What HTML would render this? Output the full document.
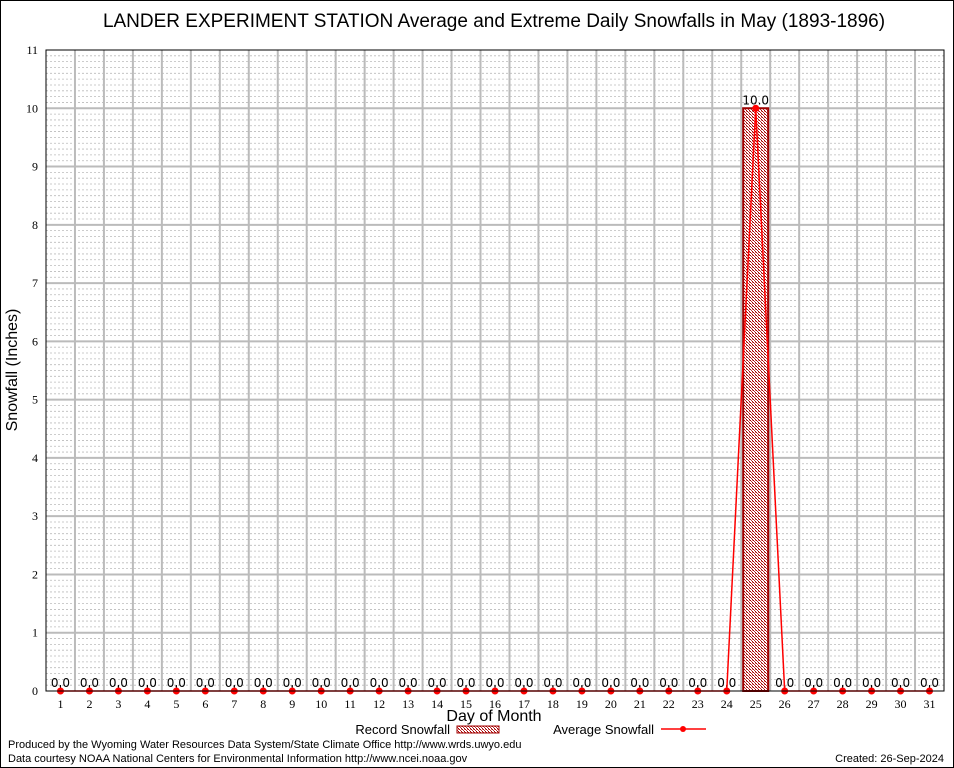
<!DOCTYPE html>
<html><head><meta charset="utf-8"><style>
body{margin:0;background:#fff}
svg{display:block;font-family:"Liberation Sans",sans-serif}
</style></head><body>
<svg id="chart" width="954" height="768" viewBox="0 0 954 768" xmlns="http://www.w3.org/2000/svg">
<defs>
<pattern id="hatch" width="3" height="3" patternUnits="userSpaceOnUse">
<rect width="3" height="3" fill="#fff"/><rect width="1" height="1" fill="#a00000"/><rect x="1" y="1" width="1" height="1" fill="#c03030"/><rect x="2" y="2" width="1" height="1" fill="#a00000"/><rect x="2" y="0" width="1" height="1" fill="#e08080"/>
</pattern>
</defs>
<rect x="0.5" y="0.5" width="953" height="767" fill="#fff" stroke="#000"/>
<text x="494" y="27" font-size="19" text-anchor="middle">LANDER EXPERIMENT STATION Average and Extreme Daily Snowfalls in May (1893-1896)</text>
<g id="grid"></g>
<g id="marks"></g>
<rect x="46" y="50" width="898" height="641" fill="none" stroke="#000"/>
<text transform="translate(17,370) rotate(-90)" font-size="16" text-anchor="middle">Snowfall (Inches)</text>
<text x="494" y="721" font-size="16" text-anchor="middle">Day of Month</text>
<g>
<text x="450" y="734" font-size="13" text-anchor="end">Record Snowfall</text>
<rect x="457" y="726" width="42" height="7" fill="url(#hatch)" stroke="#a00000"/>
</g>
<g>
<text x="654" y="734" font-size="13" text-anchor="end">Average Snowfall</text>
<line x1="661" y1="729" x2="706" y2="729" stroke="#f00" stroke-width="1.5"/>
<circle cx="683" cy="729" r="3" fill="#f00"/>
</g>
<text x="8" y="748" font-size="11">Produced by the Wyoming Water Resources Data System/State Climate Office http://www.wrds.uwyo.edu</text>
<text x="8" y="762" font-size="11">Data courtesy NOAA National Centers for Environmental Information http://www.ncei.noaa.gov</text>
<text x="944" y="762" font-size="11" text-anchor="end">Created:  26-Sep-2024</text>
</svg>
<script>
const days=[1,2,3,4,5,6,7,8,9,10,11,12,13,14,15,16,17,18,19,20,21,22,23,24,25,26,27,28,29,30,31];
const recordValues=[0,0,0,0,0,0,0,0,0,0,0,0,0,0,0,0,0,0,0,0,0,0,0,0,10,0,0,0,0,0,0];
const averageValues=[0,0,0,0,0,0,0,0,0,0,0,0,0,0,0,0,0,0,0,0,0,0,0,0,10,0,0,0,0,0,0];
const yTicks=[0,1,2,3,4,5,6,7,8,9,10,11];
const NS="http://www.w3.org/2000/svg";
const L=46,R=944,T=50,B=691,YMAX=11;
const xs=d=>L+(d-0.5)*(R-L)/31;
const ys=v=>B-v*(B-T)/YMAX;
function mk(tag,attrs,parent,txt){const e=document.createElementNS(NS,tag);for(const k in attrs)e.setAttribute(k,attrs[k]);if(txt!=null)e.textContent=txt;parent.appendChild(e);return e;}
const grid=document.getElementById('grid'),marks=document.getElementById('marks');
for(let i=1;i<YMAX*10;i++){if(i%10===0)continue;const y=ys(i/10);
const l=mk('line',{x1:L,x2:R,y1:y,y2:y,stroke:'#bbb','stroke-dasharray':'2,2','stroke-width':0.8},grid);

}
for(let d=1;d<31;d++){const x=xs(d+0.5);
const l=mk('line',{x1:x,x2:x,y1:T,y2:B,stroke:'#bbb','stroke-width':2},grid);

}
yTicks.forEach(t=>{const y=ys(t);
if(t>0&&t<YMAX){const l=mk('line',{x1:L,x2:R,y1:y,y2:y,stroke:'#bbb','stroke-width':2},grid);

}
const tx=mk('text',{x:L-8,y:y+4,'font-size':12,'text-anchor':'end','font-family':'Liberation Serif, serif'},grid,String(t));

});
days.forEach(d=>{const x=xs(d);
const tk=mk('line',{x1:x,x2:x,y1:B,y2:B-6,stroke:'#000'},grid);


const tx=mk('text',{x:x,y:B+17,'font-size':12,'text-anchor':'middle','font-family':'Liberation Serif, serif'},grid,String(d));

});
const bw=25;
days.forEach((d,i)=>{const v=recordValues[i];if(v>0){
const b=mk('rect',{x:xs(d)-bw/2,y:ys(v),width:bw,height:B-ys(v),fill:'url(#hatch)',stroke:'#a00000','stroke-width':2},marks);

}
const lb=mk('text',{x:xs(d),y:ys(v)-4,'font-size':12,'text-anchor':'middle','font-family':'DejaVu Sans, sans-serif'},marks,v.toFixed(1));

});
const pts=days.map((d,i)=>xs(d)+','+ys(averageValues[i])).join(' ');
const pl=mk('polyline',{points:pts,fill:'none',stroke:'#f00','stroke-width':1.5},marks);


days.forEach((d,i)=>{const c=mk('circle',{cx:xs(d),cy:ys(averageValues[i]),r:3.5,fill:'#f00'},marks);

});
</script>
</body></html>
